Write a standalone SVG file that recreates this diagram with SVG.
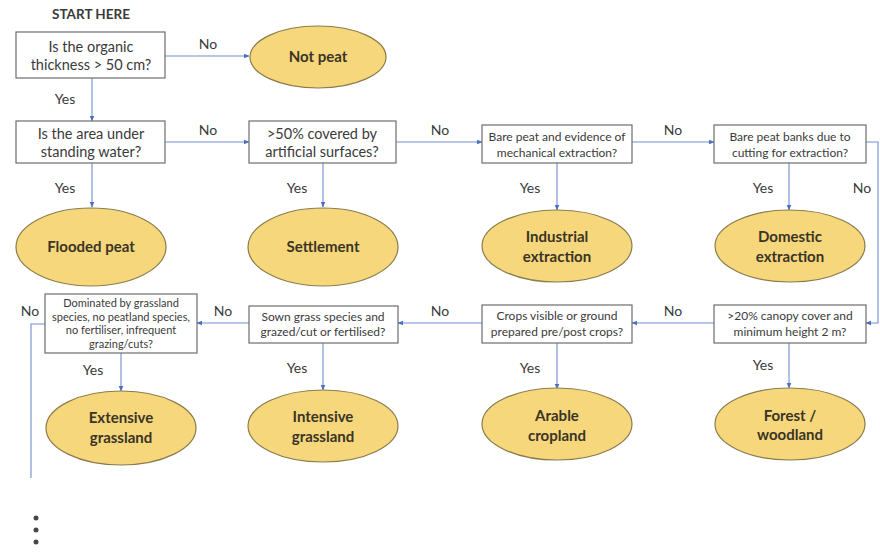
<svg xmlns="http://www.w3.org/2000/svg" width="880" height="552" viewBox="0 0 880 552">
<style>
.box{fill:#fff;stroke:#6d6d6d;stroke-width:1.2}
.ell{fill:#f6d77c;stroke:#8a7c4c;stroke-width:1.2}
.t{font-family:Lato,"Open Sans","Liberation Sans",sans-serif;fill:#3a3a3a;text-anchor:middle}
.q{font-size:14.5px}
.s{font-size:12px}
.xs{font-size:11px}
.r{font-size:15px;font-weight:bold;fill:#3a3426}
.lab{font-family:Lato,"Open Sans","Liberation Sans",sans-serif;fill:#3a3a3a;font-size:14px;text-anchor:middle}
.c{fill:none;stroke:#6f8fcf;stroke-width:1.1}
</style>
<defs>
<marker id="a" viewBox="0 0 6 6" refX="5.5" refY="3" markerWidth="5" markerHeight="5" orient="auto">
<path d="M0,0.5 L6,3 L0,5.5 Z" fill="#4a70c0"/>
</marker>
</defs>
<text x="91" y="19" class="t" style="font-size:13.5px;font-weight:bold">START HERE</text>

<g id="connectors">
<line class="c" x1="165" y1="56" x2="249" y2="56" marker-end="url(#a)"/>
<line class="c" x1="92" y1="78" x2="92" y2="121" marker-end="url(#a)"/>
<line class="c" x1="165" y1="142" x2="249" y2="142" marker-end="url(#a)"/>
<line class="c" x1="92" y1="163" x2="92" y2="207" marker-end="url(#a)"/>
<line class="c" x1="396" y1="142" x2="482" y2="142" marker-end="url(#a)"/>
<line class="c" x1="323" y1="163" x2="323" y2="207" marker-end="url(#a)"/>
<line class="c" x1="632" y1="142" x2="714" y2="142" marker-end="url(#a)"/>
<line class="c" x1="557" y1="163" x2="557" y2="210" marker-end="url(#a)"/>
<line class="c" x1="789" y1="163" x2="789" y2="210" marker-end="url(#a)"/>
<path class="c" d="M866,142 H878 V323 H866" marker-end="url(#a)"/>
<line class="c" x1="789" y1="343" x2="789" y2="388" marker-end="url(#a)"/>
<line class="c" x1="714" y1="323" x2="632" y2="323" marker-end="url(#a)"/>
<line class="c" x1="557" y1="343" x2="557" y2="389" marker-end="url(#a)"/>
<line class="c" x1="482" y1="323" x2="398" y2="323" marker-end="url(#a)"/>
<line class="c" x1="323" y1="343" x2="323" y2="390" marker-end="url(#a)"/>
<line class="c" x1="249" y1="323" x2="197" y2="323" marker-end="url(#a)"/>
<line class="c" x1="121" y1="353" x2="121" y2="391" marker-end="url(#a)"/>
<path class="c" d="M45,324 H31 V478"/>
</g>

<g id="labels">
<text class="lab" x="208" y="49">No</text>
<text class="lab" x="65" y="104">Yes</text>
<text class="lab" x="208" y="135">No</text>
<text class="lab" x="65" y="193">Yes</text>
<text class="lab" x="440" y="135">No</text>
<text class="lab" x="297" y="193">Yes</text>
<text class="lab" x="673" y="135">No</text>
<text class="lab" x="530" y="193">Yes</text>
<text class="lab" x="763" y="193">Yes</text>
<text class="lab" x="862" y="193">No</text>
<text class="lab" x="673" y="316">No</text>
<text class="lab" x="763" y="370">Yes</text>
<text class="lab" x="440" y="316">No</text>
<text class="lab" x="530" y="373">Yes</text>
<text class="lab" x="223" y="316">No</text>
<text class="lab" x="297" y="373">Yes</text>
<text class="lab" x="30" y="316">No</text>
<text class="lab" x="93" y="375">Yes</text>
</g>

<g id="q1"><rect class="box" x="16" y="32" width="149" height="46"/>
<text class="t q" x="91" y="52">Is the organic</text><text class="t q" x="91" y="70">thickness &gt; 50 cm?</text></g>
<g id="notpeat"><ellipse class="ell" cx="318" cy="57" rx="68" ry="31"/>
<text class="t r" x="318" y="62">Not peat</text></g>

<g id="q2"><rect class="box" x="16" y="121" width="149" height="42"/>
<text class="t q" x="91" y="139">Is the area under</text><text class="t q" x="91" y="157">standing water?</text></g>
<g id="flooded"><ellipse class="ell" cx="91" cy="247" rx="75" ry="39"/>
<text class="t r" x="91" y="252">Flooded peat</text></g>

<g id="q3"><rect class="box" x="249" y="121" width="147" height="42"/>
<text class="t q" x="322" y="139">&gt;50% covered by</text><text class="t q" x="322" y="157">artificial surfaces?</text></g>
<g id="settlement"><ellipse class="ell" cx="323" cy="247" rx="75" ry="39"/>
<text class="t r" x="323" y="252">Settlement</text></g>

<g id="q4"><rect class="box" x="482" y="125" width="150" height="38"/>
<text class="t s" x="557" y="141">Bare peat and evidence of</text><text class="t s" x="557" y="157">mechanical extraction?</text></g>
<g id="industrial"><ellipse class="ell" cx="557" cy="246" rx="75" ry="36"/>
<text class="t r" x="557" y="242">Industrial</text><text class="t r" x="557" y="262">extraction</text></g>

<g id="q5"><rect class="box" x="714" y="125" width="152" height="38"/>
<text class="t s" x="790" y="141">Bare peat banks due to</text><text class="t s" x="790" y="157">cutting for extraction?</text></g>
<g id="domestic"><ellipse class="ell" cx="790" cy="246" rx="75" ry="36"/>
<text class="t r" x="790" y="242">Domestic</text><text class="t r" x="790" y="262">extraction</text></g>

<g id="q6"><rect class="box" x="714" y="305" width="152" height="38"/>
<text class="t s" x="790" y="320">&gt;20% canopy cover and</text><text class="t s" x="790" y="336">minimum height 2 m?</text></g>
<g id="forest"><ellipse class="ell" cx="790" cy="424" rx="75" ry="36"/>
<text class="t r" x="790" y="421">Forest /</text><text class="t r" x="790" y="440">woodland</text></g>

<g id="q7"><rect class="box" x="482" y="305" width="150" height="38"/>
<text class="t s" x="557" y="320">Crops visible or ground</text><text class="t s" x="557" y="336">prepared pre/post crops?</text></g>
<g id="arable"><ellipse class="ell" cx="557" cy="424" rx="75" ry="36"/>
<text class="t r" x="557" y="421">Arable</text><text class="t r" x="557" y="441">cropland</text></g>

<g id="q8"><rect class="box" x="249" y="306" width="149" height="37"/>
<text class="t s" x="323" y="321">Sown grass species and</text><text class="t s" x="323" y="336">grazed/cut or fertilised?</text></g>
<g id="intensive"><ellipse class="ell" cx="323" cy="426" rx="75" ry="36"/>
<text class="t r" x="323" y="422">Intensive</text><text class="t r" x="323" y="442">grassland</text></g>

<g id="q9"><rect class="box" x="45" y="294" width="152" height="59"/>
<text class="t xs" x="121" y="307">Dominated by grassland</text><text class="t xs" x="121" y="320.5">species, no peatland species,</text><text class="t xs" x="121" y="334">no fertiliser, infrequent</text><text class="t xs" x="121" y="347.5">grazing/cuts?</text></g>
<g id="extensive"><ellipse class="ell" cx="121" cy="428" rx="75" ry="37"/>
<text class="t r" x="121" y="423">Extensive</text><text class="t r" x="121" y="443">grassland</text></g>

<g id="dots" fill="#474747">
<circle cx="36" cy="518" r="2.5"/><circle cx="36" cy="530" r="2.5"/><circle cx="36" cy="542" r="2.5"/>
</g>
</svg>
